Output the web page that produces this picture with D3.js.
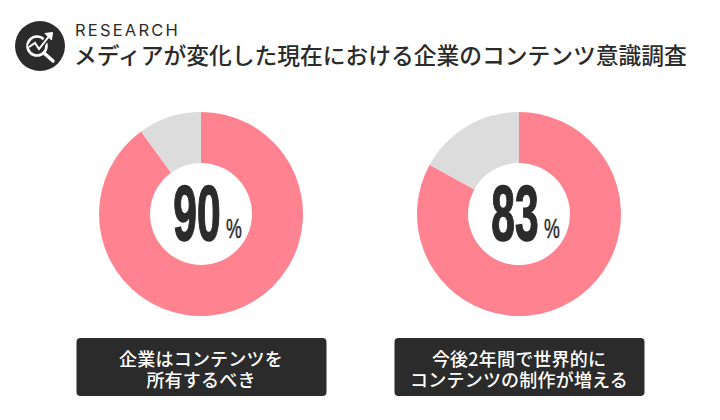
<!DOCTYPE html>
<html>
<head>
<meta charset="utf-8" />
<script src="https://cdn.jsdelivr.net/npm/d3@7"></script>
<style>
html, body { margin: 0; padding: 0; background: #fff; }
svg { display: block; }
text { font-family: "Noto Sans CJK JP", sans-serif; fill: #2b2b2b; }
</style>
</head>
<body>
<svg id="chart" width="720" height="420"></svg>
<script>
var kicker = "RESEARCH";
var title = "メディアが変化した現在における企業のコンテンツ意識調査";
var percents = [90, 83];
var captions = [
  ["企業はコンテンツを", "所有するべき"],
  ["今後2年間で世界的に", "コンテンツの制作が増える"]
];

var pink = "#ff8291";
var grey = "#dcdcdc";
var dark = "#2b2b2b";

var svg = d3.select("#chart");

// column positions
var x = d3.scaleBand().domain(d3.range(percents.length)).range([42, 678]);
var cy = 214;
var outer = 102, inner = 51;

var pie = d3.pie().sort(null).value(function(d) { return d; });
var arc = d3.arc().innerRadius(inner).outerRadius(outer);

// header icon
var icon = svg.append("g").attr("transform", "translate(40,46)");
icon.append("circle").attr("r", 25).attr("fill", dark);
icon.append("circle").attr("cx", -3).attr("cy", 0).attr("r", 9.5)
  .attr("fill", "none").attr("stroke", "#fff").attr("stroke-width", 2.6);
icon.append("path").attr("d", "M4,7 L13,15")
  .attr("stroke", "#fff").attr("stroke-width", 3.4).attr("stroke-linecap", "round");
icon.append("path").attr("d", "M-11,1 L-5,-3 L-1,3 L10,-11")
  .attr("fill", "none").attr("stroke", dark).attr("stroke-width", 5);
icon.append("path").attr("d", "M-11,1 L-5,-3 L-1,3 L10,-11")
  .attr("fill", "none").attr("stroke", "#fff").attr("stroke-width", 2);
icon.append("path").attr("d", "M5,-12.5 L12.5,-13.5 L11.5,-6 Z")
  .attr("fill", "#fff").attr("stroke", "#fff").attr("stroke-width", 1);

svg.append("text").attr("x", 75).attr("y", 36)
  .style("font-family", "Inter, sans-serif")
  .style("font-size", "16.5px")
  .style("letter-spacing", "2.2px")
  .text(kicker);

svg.append("text").attr("x", 74).attr("y", 64)
  .style("font-size", "22.75px")
  .style("font-weight", 500)
  .text(title);

percents.forEach(function(p, i) {
  var cx = x(i) + x.bandwidth() / 2;
  var g = svg.append("g").attr("transform", "translate(" + cx + "," + cy + ")");

  g.selectAll("path").data(pie([p, 100 - p])).enter().append("path")
    .attr("d", arc)
    .attr("fill", function(d, j) { return j == 0 ? pink : grey; });

  // condensed number, squeezed horizontally
  g.append("text")
    .attr("transform", "translate(-4,25.5) scale(0.56,1.03)")
    .attr("text-anchor", "middle")
    .style("font-family", "'Liberation Sans Narrow', sans-serif")
    .style("font-weight", 700)
    .style("font-size", "76px")
    .attr("stroke", dark).attr("stroke-width", 1.5)
    .text(p);
  g.append("text")
    .attr("transform", "translate(33,24) scale(0.66,1)")
    .attr("text-anchor", "middle")
    .style("font-family", "'Liberation Sans Narrow', sans-serif")
    .style("font-size", "27px")
    .attr("stroke", dark).attr("stroke-width", 0.5)
    .text("%");

  var box = svg.append("g").attr("transform", "translate(" + cx + ",367)");
  box.append("rect")
    .attr("x", -124.5).attr("y", -29).attr("width", 250).attr("height", 58).attr("rx", 4)
    .attr("fill", dark);
  // both lines in one text element
  box.append("text")
    .attr("text-anchor", "middle")
    .style("font-size", "18px")
    .style("font-weight", 500)
    .style("letter-spacing", "0.2px")
    .style("fill", "#fff")
    .selectAll("tspan").data(captions[i]).enter().append("tspan")
    .attr("x", 0)
    .attr("y", function(d, j) { return -1 + j * 21; })
    .text(function(d) { return d; });
});
</script>
</body>
</html>
